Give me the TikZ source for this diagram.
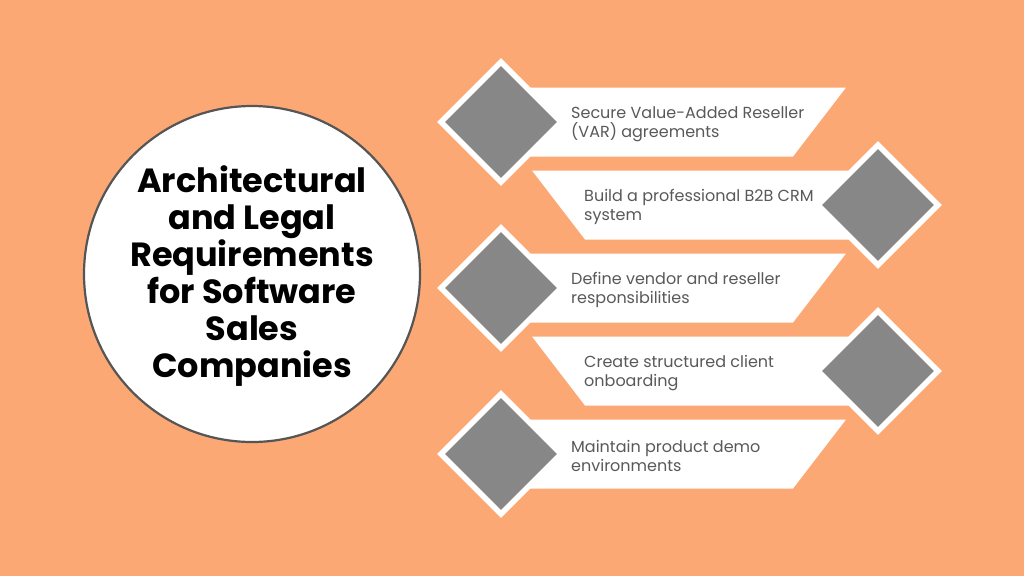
\documentclass[tikz,border=0pt]{standalone}
\usepackage{fontspec}
\setmainfont{Poppins}
\usetikzlibrary{shapes.geometric}
\definecolor{bg}{HTML}{FCA874}
\definecolor{dgray}{HTML}{878787}
\definecolor{txt}{HTML}{595959}
\definecolor{ring}{HTML}{555555}
\begin{document}
\begin{tikzpicture}[x=1pt,y=-1pt,
  outerdia/.style={diamond, fill=white, minimum width=128pt, minimum height=128pt, inner sep=0pt},
  innerdia/.style={diamond, fill=dgray, minimum width=112pt, minimum height=112pt, inner sep=0pt},
  itemtext/.style={anchor=west, align=left, text=txt, font=\fontsize{16}{18.5}\selectfont, inner sep=0pt},
  titletext/.style={align=center, text=black, font=\fontsize{33.5}{37}\selectfont\bfseries},
  hub/.style={circle, fill=white, draw=ring, line width=2.2pt, minimum size=336pt, inner sep=0pt}]
\useasboundingbox (0,0) rectangle (1024,576);
\fill[bg] (0,0) rectangle (1024,576);

% central circle
\node[hub] (hub) at (252,274) {};
\node[titletext] (title) at (252,276) {Architectural\\and Legal\\Requirements\\for Software\\Sales\\Companies};

% banners (odd: left diamond, slanted right end)
\foreach \n/\yc in {1/122,3/288,5/454}{
  \fill[white] (500,\yc-34.5) -- (846,\yc-34.5) -- (793,\yc+34.5) -- (500,\yc+34.5) -- cycle;
}
% banners (even: right diamond, slanted left end)
\foreach \n/\yc in {2/205,4/371}{
  \fill[white] (532,\yc-34.5) -- (880,\yc-34.5) -- (880,\yc+34.5) -- (585,\yc+34.5) -- cycle;
}

% diamonds
\node[outerdia] (d1o) at (501,122) {};
\node[innerdia] (d1) at (501,122) {};
\node[outerdia] (d2o) at (878,205) {};
\node[innerdia] (d2) at (878,205) {};
\node[outerdia] (d3o) at (501,288) {};
\node[innerdia] (d3) at (501,288) {};
\node[outerdia] (d4o) at (878,371) {};
\node[innerdia] (d4) at (878,371) {};
\node[outerdia] (d5o) at (501,454) {};
\node[innerdia] (d5) at (501,454) {};

% texts
\node[itemtext] (t1) at (571,124) {Secure Value-Added Reseller\\(VAR) agreements};
\node[itemtext] (t2) at (584,207) {Build a professional B2B CRM\\system};
\node[itemtext] (t3) at (571,290) {Define vendor and reseller\\responsibilities};
\node[itemtext] (t4) at (584,373) {Create structured client\\onboarding};
\node[itemtext] (t5) at (571,456) {Maintain product demo\\environments};
\end{tikzpicture}
\end{document}
